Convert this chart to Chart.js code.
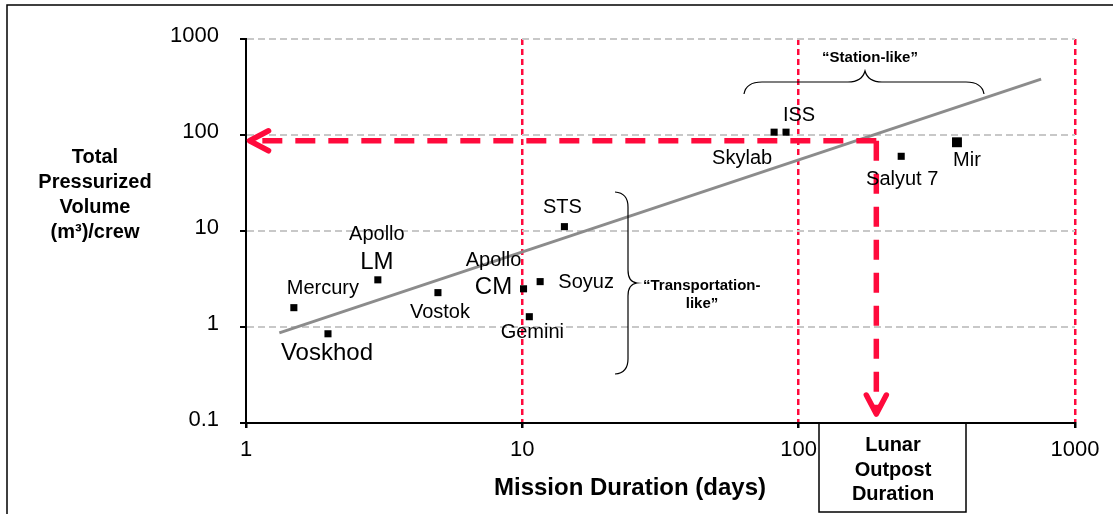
<!DOCTYPE html>
<html>
<head>
<meta charset="utf-8">
<script src="https://cdn.jsdelivr.net/npm/chart.js@4.4.1/dist/chart.umd.min.js"></script>
<style>
  html, body { margin: 0; padding: 0; background: #fff; }
  #wrap { width: 1113px; height: 514px; }
</style>
</head>
<body>
<div id="wrap"><canvas id="volumeChart"></canvas></div>
<script>
// Datos (escala log-log)
const missions = ["Mercury", "Voskhod", "Apollo LM", "Vostok", "Apollo CM", "Soyuz", "Gemini", "STS", "Skylab", "ISS", "Salyut 7", "Mir"];
const durationDays = [1.49, 1.98, 3.0, 4.95, 10.1, 11.6, 10.6, 14.2, 81.5, 90, 235, 374];
const volumePerCrew = [1.59, 0.85, 3.1, 2.28, 2.5, 2.97, 1.28, 11.1, 107, 107, 60, 84];

// Línea de tendencia (extremos)
const trendDays = [1.32, 754];
const trendVolume = [0.87, 382];

// Flechas rojas de la duración del puesto lunar
const outpostDays = 191;
const outpostVolume = 87;
const arrowEndDays = 1.03;
const arrowEndVolume = 0.124;

const xTicks = [1, 10, 100, 1000];
const xTickLabels = ["1", "10", "100", "1000"];
const yTicks = [0.1, 1, 10, 100, 1000];
const yTickLabels = ["0.1", "1", "10", "100", "1000"];

// Etiquetas de cada misión (desplazamiento en px respecto al punto)
const labelLayout = [
  [{ t: "Mercury", dx: 29, dy: -14 }],
  [{ t: "Voskhod", dx: -1, dy: 26, big: true }],
  [{ t: "Apollo", dx: -1, dy: -40 }, { t: "LM", dx: -1, dy: -11, big: true }],
  [{ t: "Vostok", dx: 2, dy: 25 }],
  [{ t: "Apollo", dx: -30, dy: -23 }, { t: "CM", dx: -30, dy: 5, big: true }],
  [{ t: "Soyuz", dx: 46, dy: 6 }],
  [{ t: "Gemini", dx: 3, dy: 21 }],
  [{ t: "STS", dx: -2, dy: -14 }],
  [{ t: "Skylab", dx: -32, dy: 32 }],
  [{ t: "ISS", dx: 13, dy: -11 }],
  [{ t: "Salyut 7", dx: 1, dy: 29 }],
  [{ t: "Mir", dx: 10, dy: 24 }],
];

const FONT = '"Liberation Sans", Arial, sans-serif';
const RED = "#ff0a3c";
const GRAY_GRID = "#c8c8c8";

function chevron(ctx, tipX, tipY, dirX, dirY) {
  const back = 19, half = 10;
  const bx = tipX - dirX * back, by = tipY - dirY * back;
  const px = -dirY, py = dirX;
  ctx.beginPath();
  ctx.moveTo(bx + px * half, by + py * half);
  ctx.lineTo(tipX, tipY);
  ctx.lineTo(bx - px * half, by - py * half);
  ctx.stroke();
}

const annotations = {
  id: "annotations",
  afterDatasetsDraw(chart) {
    const { ctx, scales: { x, y } } = chart;
    ctx.save();

    // puntas de flecha
    ctx.strokeStyle = RED;
    ctx.lineWidth = 5.5;
    ctx.lineCap = "round";
    ctx.lineJoin = "round";
    chevron(ctx, x.getPixelForValue(arrowEndDays), y.getPixelForValue(outpostVolume), -1, 0);
    chevron(ctx, x.getPixelForValue(outpostDays), y.getPixelForValue(arrowEndVolume), 0, 1);

    // etiquetas de misiones
    ctx.fillStyle = "#000";
    ctx.textAlign = "center";
    ctx.textBaseline = "alphabetic";
    missions.forEach((m, i) => {
      const px = x.getPixelForValue(durationDays[i]);
      const py = y.getPixelForValue(volumePerCrew[i]);
      labelLayout[i].forEach((l) => {
        ctx.font = (l.big ? "24px " : "20px ") + FONT;
        ctx.fillText(l.t, px + l.dx, py + l.dy);
      });
    });
    ctx.restore();
  },
  afterDraw(chart) {
    const { ctx } = chart;
    ctx.save();
    ctx.fillStyle = "#000";
    ctx.strokeStyle = "#000";

    // marco
    ctx.lineWidth = 1.5;
    ctx.beginPath();
    ctx.moveTo(1113, 5);
    ctx.lineTo(7, 5);
    ctx.lineTo(7, 514);
    ctx.stroke();

    // título eje Y
    ctx.font = "bold 20px " + FONT;
    ctx.textAlign = "center";
    ctx.textBaseline = "alphabetic";
    ["Total", "Pressurized", "Volume", "(m³)/crew"].forEach((t, i) => {
      ctx.fillText(t, 95, 163 + i * 25);
    });

    // caja Lunar Outpost Duration
    ctx.lineWidth = 1.5;
    ctx.fillStyle = "#fff";
    ctx.fillRect(819, 424, 147, 88);
    ctx.strokeRect(819, 423, 147, 89);
    ctx.fillStyle = "#000";
    ["Lunar", "Outpost", "Duration"].forEach((t, i) => {
      ctx.fillText(t, 893, 451 + i * 24.5);
    });

    // título eje X
    ctx.font = "bold 24px " + FONT;
    ctx.fillText("Mission Duration (days)", 630, 495);

    // llave "Station-like"
    ctx.lineWidth = 1.2;
    ctx.beginPath();
    ctx.moveTo(744, 94);
    ctx.quadraticCurveTo(746, 82, 762, 82);
    ctx.lineTo(848, 82);
    ctx.quadraticCurveTo(862, 82, 865, 71);
    ctx.quadraticCurveTo(868, 82, 882, 82);
    ctx.lineTo(966, 82);
    ctx.quadraticCurveTo(982, 82, 984, 94);
    ctx.stroke();

    // llave "Transportation-like"
    ctx.beginPath();
    ctx.moveTo(615, 192);
    ctx.quadraticCurveTo(628, 193, 628, 207);
    ctx.lineTo(628, 270);
    ctx.quadraticCurveTo(628, 282, 637, 283);
    ctx.quadraticCurveTo(628, 284, 628, 296);
    ctx.lineTo(628, 359);
    ctx.quadraticCurveTo(628, 373, 615, 374);
    ctx.stroke();

    ctx.font = "bold 15px " + FONT;
    ctx.fillText("\u201cStation-like\u201d", 870, 62);
    ctx.textAlign = "left";
    ctx.fillText("\u201cTransportation-", 643, 290);
    ctx.textAlign = "center";
    ctx.fillText("like\u201d", 702, 308);

    ctx.restore();
  },
};

const ctx = document.getElementById("volumeChart");

new Chart(ctx, {
  type: "scatter",
  data: {
    datasets: [
      {
        label: "Missions",
        data: missions.map((m, i) => ({ x: durationDays[i], y: volumePerCrew[i] })),
        pointStyle: "rect",
        backgroundColor: "#000",
        borderColor: "#000",
        borderWidth: 0,
        pointRadius: (c) => (missions[c.dataIndex] === "Mir" ? 7 : 5),
        order: 0,
      },
      {
        label: "Trend",
        data: trendDays.map((d, i) => ({ x: d, y: trendVolume[i] })),
        showLine: true,
        borderColor: "#8c8c8c",
        borderWidth: 3,
        pointRadius: 0,
        order: 2,
      },
      {
        label: "Outpost volume",
        data: [
          { x: outpostDays, y: outpostVolume },
          { x: arrowEndDays, y: outpostVolume },
        ],
        showLine: true,
        borderColor: RED,
        borderWidth: 5.5,
        borderDash: [20, 13],
        pointRadius: 0,
        order: 1,
      },
      {
        label: "Outpost duration",
        data: [
          { x: outpostDays, y: outpostVolume },
          { x: outpostDays, y: arrowEndVolume },
        ],
        showLine: true,
        borderColor: RED,
        borderWidth: 5.5,
        borderDash: [20, 13],
        pointRadius: 0,
        order: 1,
      },
    ],
  },
  options: {
    responsive: true,
    maintainAspectRatio: false,
    animation: false,
    layout: { padding: { top: 39, right: 38, left: 0, bottom: 0 } },
    plugins: {
      legend: { display: false },
      tooltip: { enabled: false },
    },
    scales: {
      x: {
        type: "logarithmic",
        min: 1,
        max: 1000,
        afterBuildTicks: (axis) => {
          axis.ticks = xTicks.map((v) => ({ value: v }));
        },
        afterFit: (axis) => {
          axis.height = 91;
        },
        ticks: {
          callback: (v) => xTickLabels[xTicks.indexOf(v)],
          font: { family: FONT, size: 22 },
          color: "#000",
          padding: 9,
          maxRotation: 0,
          autoSkip: false,
        },
        grid: {
          color: (c) => (c.tick && c.tick.value === 1 ? "rgba(0,0,0,0)" : RED),
          lineWidth: 2.5,
          tickColor: "#000",
          tickLength: 5,
        },
        border: { color: "#000", width: 2, dash: [6, 4] },
      },
      y: {
        type: "logarithmic",
        min: 0.1,
        max: 1000,
        afterBuildTicks: (axis) => {
          axis.ticks = yTicks.map((v) => ({ value: v }));
        },
        afterFit: (axis) => {
          axis.width = 246;
        },
        ticks: {
          callback: (v) => yTickLabels[yTicks.indexOf(v)],
          font: { family: FONT, size: 22 },
          color: "#000",
          padding: 21,
          labelOffset: -3,
          autoSkip: false,
        },
        grid: {
          color: (c) => (c.tick && c.tick.value === 0.1 ? "rgba(0,0,0,0)" : GRAY_GRID),
          lineWidth: 2,
          tickColor: "#000",
          tickLength: 6,
        },
        border: { color: "#000", width: 2, dash: [7, 4] },
      },
    },
  },
  plugins: [annotations],
});
</script>
</body>
</html>
